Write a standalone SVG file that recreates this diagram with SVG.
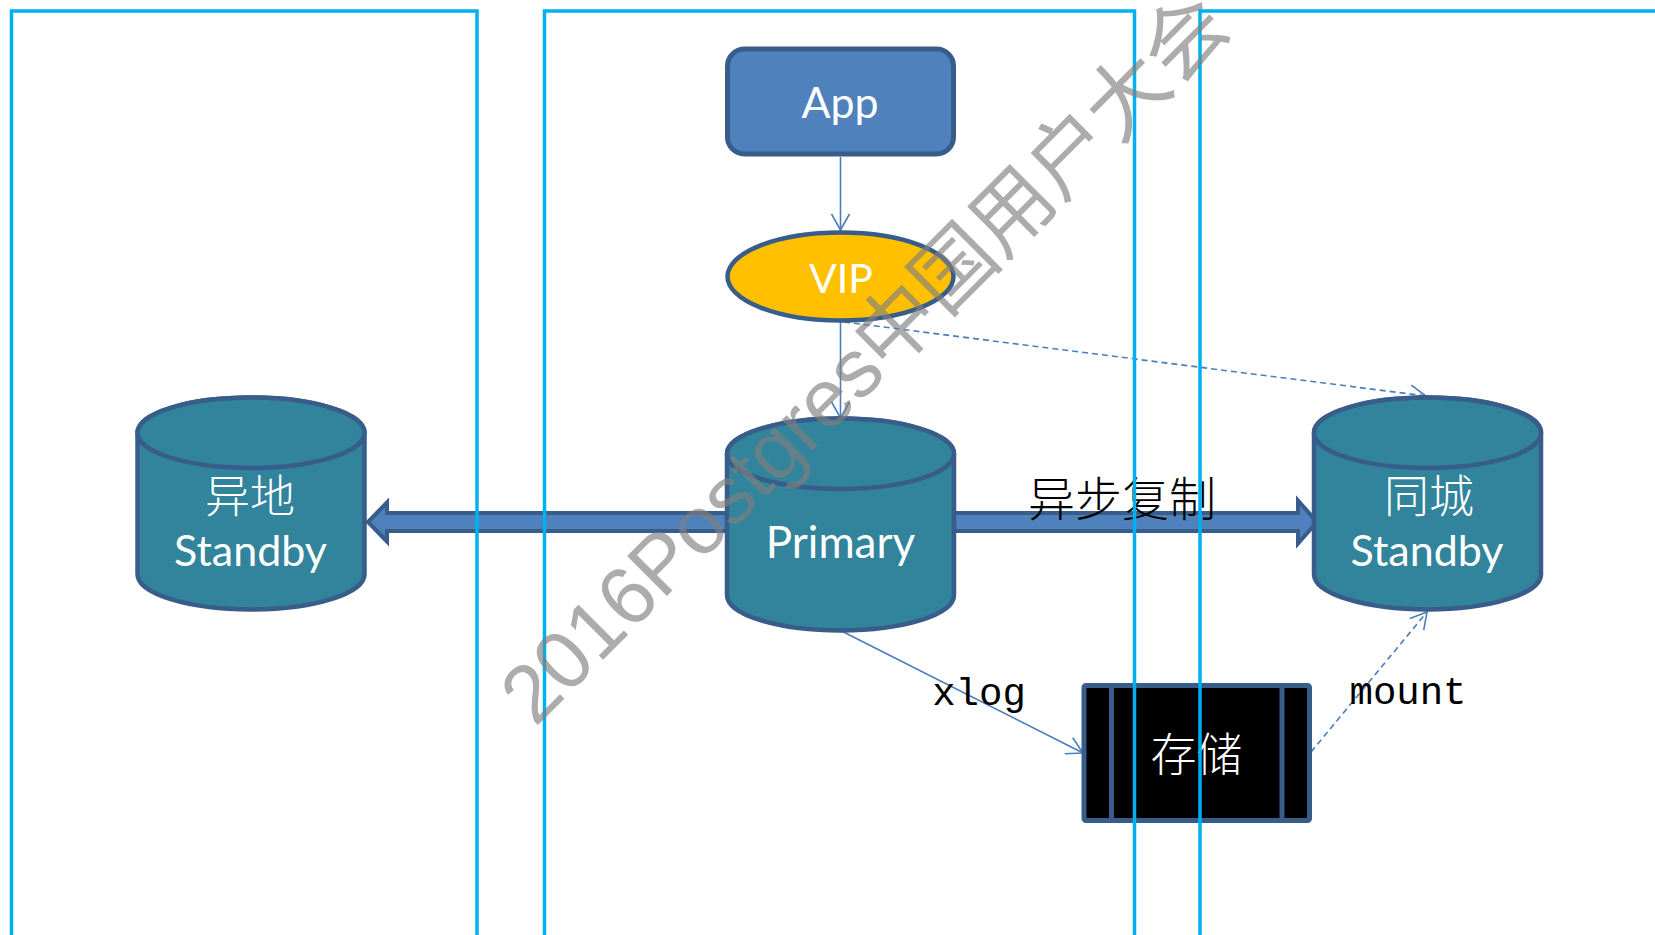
<svg xmlns="http://www.w3.org/2000/svg" width="1655" height="935" viewBox="0 0 1655 935">
<style>
.cyl{fill:#31849B;stroke:#385D8A;stroke-width:4.5}
.wt{fill:#FFFFFF;font-family:Lato,"Open Sans",sans-serif;text-anchor:middle}
.cjkw{fill:#FFFFFF;font-family:"Noto Sans CJK SC",sans-serif;text-anchor:middle;font-weight:300}
.thin{fill:none;stroke:#4A7EBB;stroke-width:1.6}
.fat{fill:#4F81BD;stroke:#385D8A;stroke-width:4;stroke-linejoin:miter}
.frame{fill:none;stroke:#00B0F0;stroke-width:3.5}
.mono{font-family:"Liberation Mono","DejaVu Sans Mono",monospace;font-size:39px;fill:#000000;text-anchor:middle}
</style>
<defs>
<marker id="open" viewBox="0 0 18 20" refX="17" refY="10" markerWidth="18" markerHeight="20" markerUnits="userSpaceOnUse" orient="auto">
<path d="M1,1 L17,10 L1,19" fill="none" stroke="#4A7EBB" stroke-width="1.6"/>
</marker>
</defs>
<rect width="1655" height="935" fill="#FFFFFF"/>
<g id="connectors">
<polygon class="fat" points="368,522 387,502.5 387,513 760,513 760,531 387,531 387,541.5"/>
<polygon class="fat" points="920,513 1298,513 1298,500.5 1317,522 1298,543.5 1298,531 920,531"/>
<line class="thin" x1="840.5" y1="157" x2="840.5" y2="230" marker-end="url(#open)"/>
<line class="thin" x1="840.5" y1="322" x2="840.5" y2="418" marker-end="url(#open)"/>
<line class="thin" x1="844" y1="322" x2="1426" y2="396" stroke-dasharray="6,4" marker-end="url(#open)"/>
<line class="thin" x1="841.5" y1="631" x2="1083" y2="753" marker-end="url(#open)"/>
<line class="thin" x1="1311" y1="752" x2="1427" y2="612" stroke-dasharray="6,4" marker-end="url(#open)"/>
</g>
<g id="app">
<rect x="727.5" y="49" width="226" height="105" rx="17" fill="#4F81BD" stroke="#385D8A" stroke-width="5"/>
<text class="wt" x="840" y="118" font-size="43">App</text>
</g>
<g id="vip">
<ellipse cx="840.5" cy="276.5" rx="113" ry="44" fill="#FFC000" stroke="#385D8A" stroke-width="4.5"/>
<text class="wt" x="841" y="293" font-size="41">VIP</text>
</g>
<g id="remote-standby">
<path class="cyl" d="M137.5,432.75 L137.5,574.25 A113.5,35.25 0 0 0 364.5,574.25 L364.5,432.75 A113.5,35.25 0 0 0 137.5,432.75 Z"/>
<ellipse class="cyl" cx="251" cy="432.75" rx="113.5" ry="35.25"/>
<text class="cjkw" x="250" y="513" font-size="45">异地</text>
<text class="wt" x="250.5" y="566" font-size="43">Standby</text>
</g>
<g id="primary">
<path class="cyl" d="M727,453.75 L727,595.25 A113.5,35.25 0 0 0 954,595.25 L954,453.75 A113.5,35.25 0 0 0 727,453.75 Z"/>
<ellipse class="cyl" cx="840.5" cy="453.75" rx="113.5" ry="35.25"/>
<text class="wt" x="840.5" y="558" font-size="44">Primary</text>
</g>
<g id="local-standby">
<path class="cyl" d="M1314,432.75 L1314,574.25 A113.5,35.25 0 0 0 1541,574.25 L1541,432.75 A113.5,35.25 0 0 0 1314,432.75 Z"/>
<ellipse class="cyl" cx="1427.5" cy="432.75" rx="113.5" ry="35.25"/>
<text class="cjkw" x="1429" y="513" font-size="45">同城</text>
<text class="wt" x="1427" y="566" font-size="43">Standby</text>
</g>
<g id="storage">
<rect x="1084" y="685.5" width="225.5" height="135" rx="2" fill="#000000" stroke="#385D8A" stroke-width="5"/>
<line x1="1111.5" y1="685.5" x2="1111.5" y2="820.5" stroke="#385D8A" stroke-width="5"/>
<line x1="1282" y1="685.5" x2="1282" y2="820.5" stroke="#385D8A" stroke-width="5"/>
<text class="cjkw" x="1196.5" y="771" font-size="46">存储</text>
</g>
<g id="labels">
<text x="1122" y="516" font-size="47" font-family="'Noto Sans CJK SC',sans-serif" font-weight="300" text-anchor="middle" fill="#000000">异步复制</text>
<text class="mono" x="979" y="705">xlog</text>
<text class="mono" x="1408" y="704">mount</text>
</g>
<g id="frames">
<rect class="frame" x="11.5" y="11" width="465.5" height="1000"/>
<rect class="frame" x="544.5" y="11" width="590" height="1000"/>
<rect class="frame" x="1200" y="11" width="600" height="1000"/>
</g>
<g id="watermark">
<text x="535" y="728" transform="rotate(-45 535 728)" font-size="82" font-family="'Liberation Sans','Noto Sans CJK SC',sans-serif" fill="#7F7F7F" fill-opacity="0.65" textLength="988" lengthAdjust="spacing">2016Postgres中国用户大会</text>
</g>
</svg>
